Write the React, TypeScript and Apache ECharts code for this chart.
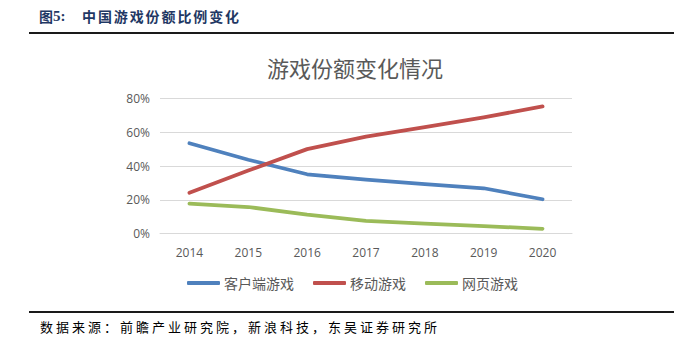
import React, { useEffect, useRef } from "react";
import * as echarts from "echarts";

const years = ["2014", "2015", "2016", "2017", "2018", "2019", "2020"];
const clientGames = [53.5, 43.7, 35.1, 31.9, 29.2, 26.8, 20.3];
const mobileGames = [24.1, 37.3, 50.0, 57.4, 63.0, 68.8, 75.3];
const webGames = [17.7, 15.7, 11.2, 7.5, 5.9, 4.4, 2.8];
const seriesNames = ["客户端游戏", "移动游戏", "网页游戏"];
const yTicks = { min: 0, max: 80, interval: 20 };
const headerTitle = "中国游戏份额比例变化";
const sourceText = "数据来源：前瞻产业研究院，新浪科技，东吴证券研究所";

export default function App() {
  const ref = useRef<HTMLDivElement>(null);
  useEffect(() => {
    const chart = echarts.init(ref.current!, null, { renderer: "svg" });
    const serif = "'Liberation Serif', 'Noto Sans CJK SC', serif";
    const cjk = "'Noto Sans CJK SC', sans-serif";
    const sans = "'Noto Sans CJK SC', 'Open Sans', sans-serif";
    const headerChars = headerTitle.split("").map((ch, i) => ({
      type: "text",
      x: 82 + i * 15.9,
      y: 16,
      style: { text: ch, fontSize: 14, fontWeight: "bold", fill: "#1F3864", fontFamily: cjk, textVerticalAlign: "middle" },
    }));
    const sourceChars = sourceText.split("").map((ch, i) => ({
      type: "text",
      x: 40 + i * 16,
      y: 326,
      style: { text: ch, fontSize: 13, fill: "#000000", fontFamily: cjk, textVerticalAlign: "middle" },
    }));
    chart.setOption({
      animation: false,
      backgroundColor: "#ffffff",
      title: {
        text: "游戏份额变化情况",
        left: 350,
        textAlign: "center",
        top: 51,
        textStyle: { fontSize: 22, fontWeight: "normal", color: "#595959", fontFamily: sans },
      },
      legend: {
        left: 187,
        top: 276,
        padding: 0,
        icon: "roundRect",
        itemWidth: 33,
        itemHeight: 4,
        itemGap: 19,
        textStyle: { fontSize: 14, color: "#595959", fontFamily: sans, padding: [0, 0, 0, -1] },
        data: seriesNames,
      },
      grid: { left: 160, right: 118, top: 98.5, bottom: 108.5, containLabel: false },
      xAxis: {
        type: "category",
        data: years,
        boundaryGap: true,
        axisLine: { show: true, lineStyle: { color: "#D9D9D9", width: 1 } },
        axisTick: { show: false },
        axisLabel: { color: "#595959", fontSize: 12, margin: 13, fontFamily: "'Open Sans', sans-serif" },
      },
      yAxis: {
        type: "value",
        min: yTicks.min,
        max: yTicks.max,
        interval: yTicks.interval,
        axisLine: { show: false },
        axisTick: { show: false },
        splitLine: { lineStyle: { color: "#D9D9D9", width: 1 } },
        axisLabel: { color: "#595959", fontSize: 12, margin: 10, formatter: "{value}%", fontFamily: "'Open Sans', sans-serif" },
      },
      series: [
        { name: seriesNames[0], type: "line", data: clientGames, symbol: "none", lineStyle: { width: 3.75, color: "#4F81BD", cap: "round", join: "round" }, itemStyle: { color: "#4F81BD" } },
        { name: seriesNames[1], type: "line", data: mobileGames, symbol: "none", lineStyle: { width: 3.75, color: "#C0504D", cap: "round", join: "round" }, itemStyle: { color: "#C0504D" } },
        { name: seriesNames[2], type: "line", data: webGames, symbol: "none", lineStyle: { width: 3.75, color: "#9BBB59", cap: "round", join: "round" }, itemStyle: { color: "#9BBB59" } },
      ],
      graphic: [
        {
          type: "text",
          x: 39,
          y: 16,
          style: { text: "图", fontSize: 14, fontWeight: "bold", fill: "#1F3864", fontFamily: cjk, textVerticalAlign: "middle" },
        },
        {
          type: "text",
          x: 53,
          y: 16,
          style: { text: "5:", fontSize: 15, fontWeight: "bold", fill: "#1F3864", fontFamily: serif, textVerticalAlign: "middle" },
        },
        ...headerChars,
        { type: "line", shape: { x1: 29, y1: 33, x2: 674, y2: 33 }, style: { stroke: "#1a1a1a", lineWidth: 2 } },
        { type: "line", shape: { x1: 29, y1: 312, x2: 674, y2: 312 }, style: { stroke: "#1a1a1a", lineWidth: 2 } },
        ...sourceChars,
      ],
    });
    return () => chart.dispose();
  }, []);
  return <div ref={ref} style={{ width: 690, height: 342, position: "absolute", left: 0, top: 0 }} />;
}
